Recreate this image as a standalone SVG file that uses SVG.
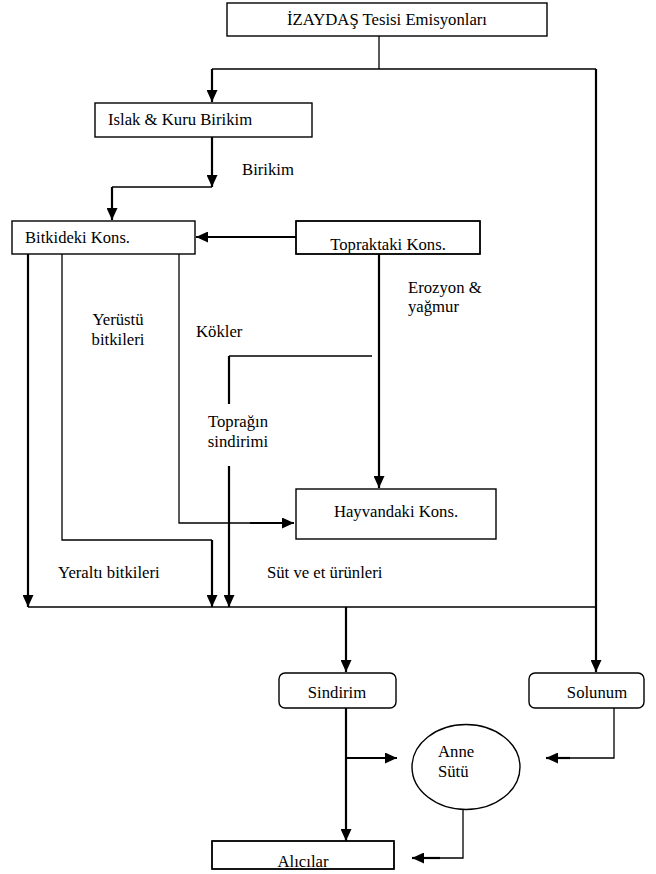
<svg xmlns="http://www.w3.org/2000/svg" width="656" height="874" viewBox="0 0 656 874" font-family="'Liberation Serif', 'Times New Roman', 'DejaVu Serif', serif" font-size="16.7">
<style>
text{font-family:'Liberation Serif','Times New Roman','DejaVu Serif',serif;font-size:16.7px;fill:#000}
.box{fill:#fff;stroke:#000;stroke-width:1.4}
.bord{fill:none;stroke:#000;stroke-width:1.4}
.thick{fill:none;stroke:#000;stroke-width:2.2}
.thin{fill:none;stroke:#000;stroke-width:1.3}
.mid{text-anchor:middle}
</style>
<defs>
<marker id="ah" markerUnits="userSpaceOnUse" markerWidth="13" markerHeight="11" refX="12" refY="5.5" orient="auto">
<path d="M0,0 L12,5.5 L0,11 z" fill="#000"/>
</marker>
<clipPath id="cTop"><rect x="297" y="222" width="182" height="31"/></clipPath>
<clipPath id="cAli"><rect x="213" y="842" width="180" height="26"/></clipPath>
</defs>
<rect width="656" height="874" fill="#fff"/>

<g id="connectors">
<path class="thin" d="M379,36 V69"/>
<path class="thin" d="M212,69 H596"/>
<path class="thick" d="M212,69 V102" marker-end="url(#ah)"/>
<path class="thick" d="M596,69 V672" marker-end="url(#ah)"/>
<path class="thick" d="M212,137 V187" marker-end="url(#ah)"/>
<path class="thin" d="M212,187 H112"/>
<path class="thick" d="M112,187 V220" marker-end="url(#ah)"/>
<path class="thick" d="M296,237 H196" marker-end="url(#ah)"/>
<path class="thick" d="M28,254 V607" marker-end="url(#ah)"/>
<path class="thin" d="M62,254 V540 H212"/>
<path class="thick" d="M212,540 V607" marker-end="url(#ah)"/>
<path class="thin" d="M179,254 V523 H250"/>
<path class="thick" d="M250,523 H294" marker-end="url(#ah)"/>
<path class="thick" d="M379,254 V488" marker-end="url(#ah)"/>
<path class="thin" d="M372,356 H229"/>
<path class="thick" d="M229,356 V404"/>
<path class="thick" d="M229,466 V607" marker-end="url(#ah)"/>
<path class="thin" d="M28,607 H596"/>
<path class="thick" d="M346,607 V672" marker-end="url(#ah)"/>
<path class="thick" d="M346,708 V841" marker-end="url(#ah)"/>
<path class="thick" d="M346,758 H397" marker-end="url(#ah)"/>
<path class="thin" d="M614,708 V758 H570"/>
<path class="thick" d="M570,758 H546" marker-end="url(#ah)"/>
<path class="thin" d="M463,809 V858 H440"/>
<path class="thick" d="M440,858 H412" marker-end="url(#ah)"/>
</g>

<g id="labels">
<text x="242" y="175">Birikim</text>
<text x="408" y="293">Erozyon &amp;</text>
<text x="408" y="312">yağmur</text>
<text x="118" y="325" class="mid">Yerüstü</text>
<text x="118" y="345" class="mid">bitkileri</text>
<text x="196" y="337">Kökler</text>
<text x="238" y="427" class="mid">Toprağın</text>
<text x="238" y="447" class="mid">sindirimi</text>
<text x="58" y="578">Yeraltı bitkileri</text>
<text x="267" y="578">Süt ve et ürünleri</text>
</g>

<g id="n-emisyon">
<rect class="box" x="227" y="3" width="320" height="33"/>
<text x="387" y="25" class="mid">İZAYDAŞ Tesisi Emisyonları</text>
</g>
<g id="n-islak">
<rect class="box" x="95" y="103" width="217" height="34"/>
<text x="108" y="125">Islak &amp; Kuru Birikim</text>
</g>
<g id="n-bitki">
<rect class="box" x="12" y="221" width="183" height="33"/>
<text x="25" y="243" textLength="105" lengthAdjust="spacingAndGlyphs">Bitkideki Kons.</text>
</g>
<g id="n-toprak">
<rect class="box" x="296" y="221" width="184" height="33"/>
<text x="388" y="250" class="mid" clip-path="url(#cTop)">Topraktaki Kons.</text>
<rect class="bord" x="296" y="221" width="184" height="33"/>
</g>
<g id="n-hayvan">
<rect class="box" x="296" y="489" width="200" height="50"/>
<text x="396" y="517" class="mid">Hayvandaki Kons.</text>
</g>
<g id="n-sindirim">
<rect class="box" x="279" y="673" width="117" height="35" rx="6"/>
<text x="337" y="698" class="mid">Sindirim</text>
</g>
<g id="n-solunum">
<rect class="box" x="529" y="673" width="115" height="35" rx="6"/>
<text x="597" y="698" class="mid">Solunum</text>
</g>
<g id="n-anne">
<ellipse class="box" cx="466" cy="767" rx="54" ry="42.5"/>
<text x="438" y="757">Anne</text>
<text x="438" y="777">Sütü</text>
</g>
<g id="n-alicilar">
<rect class="box" x="212" y="841" width="182" height="28"/>
<text x="303" y="867" class="mid" clip-path="url(#cAli)">Alıcılar</text>
<rect class="bord" x="212" y="841" width="182" height="28"/>
</g>
</svg>
